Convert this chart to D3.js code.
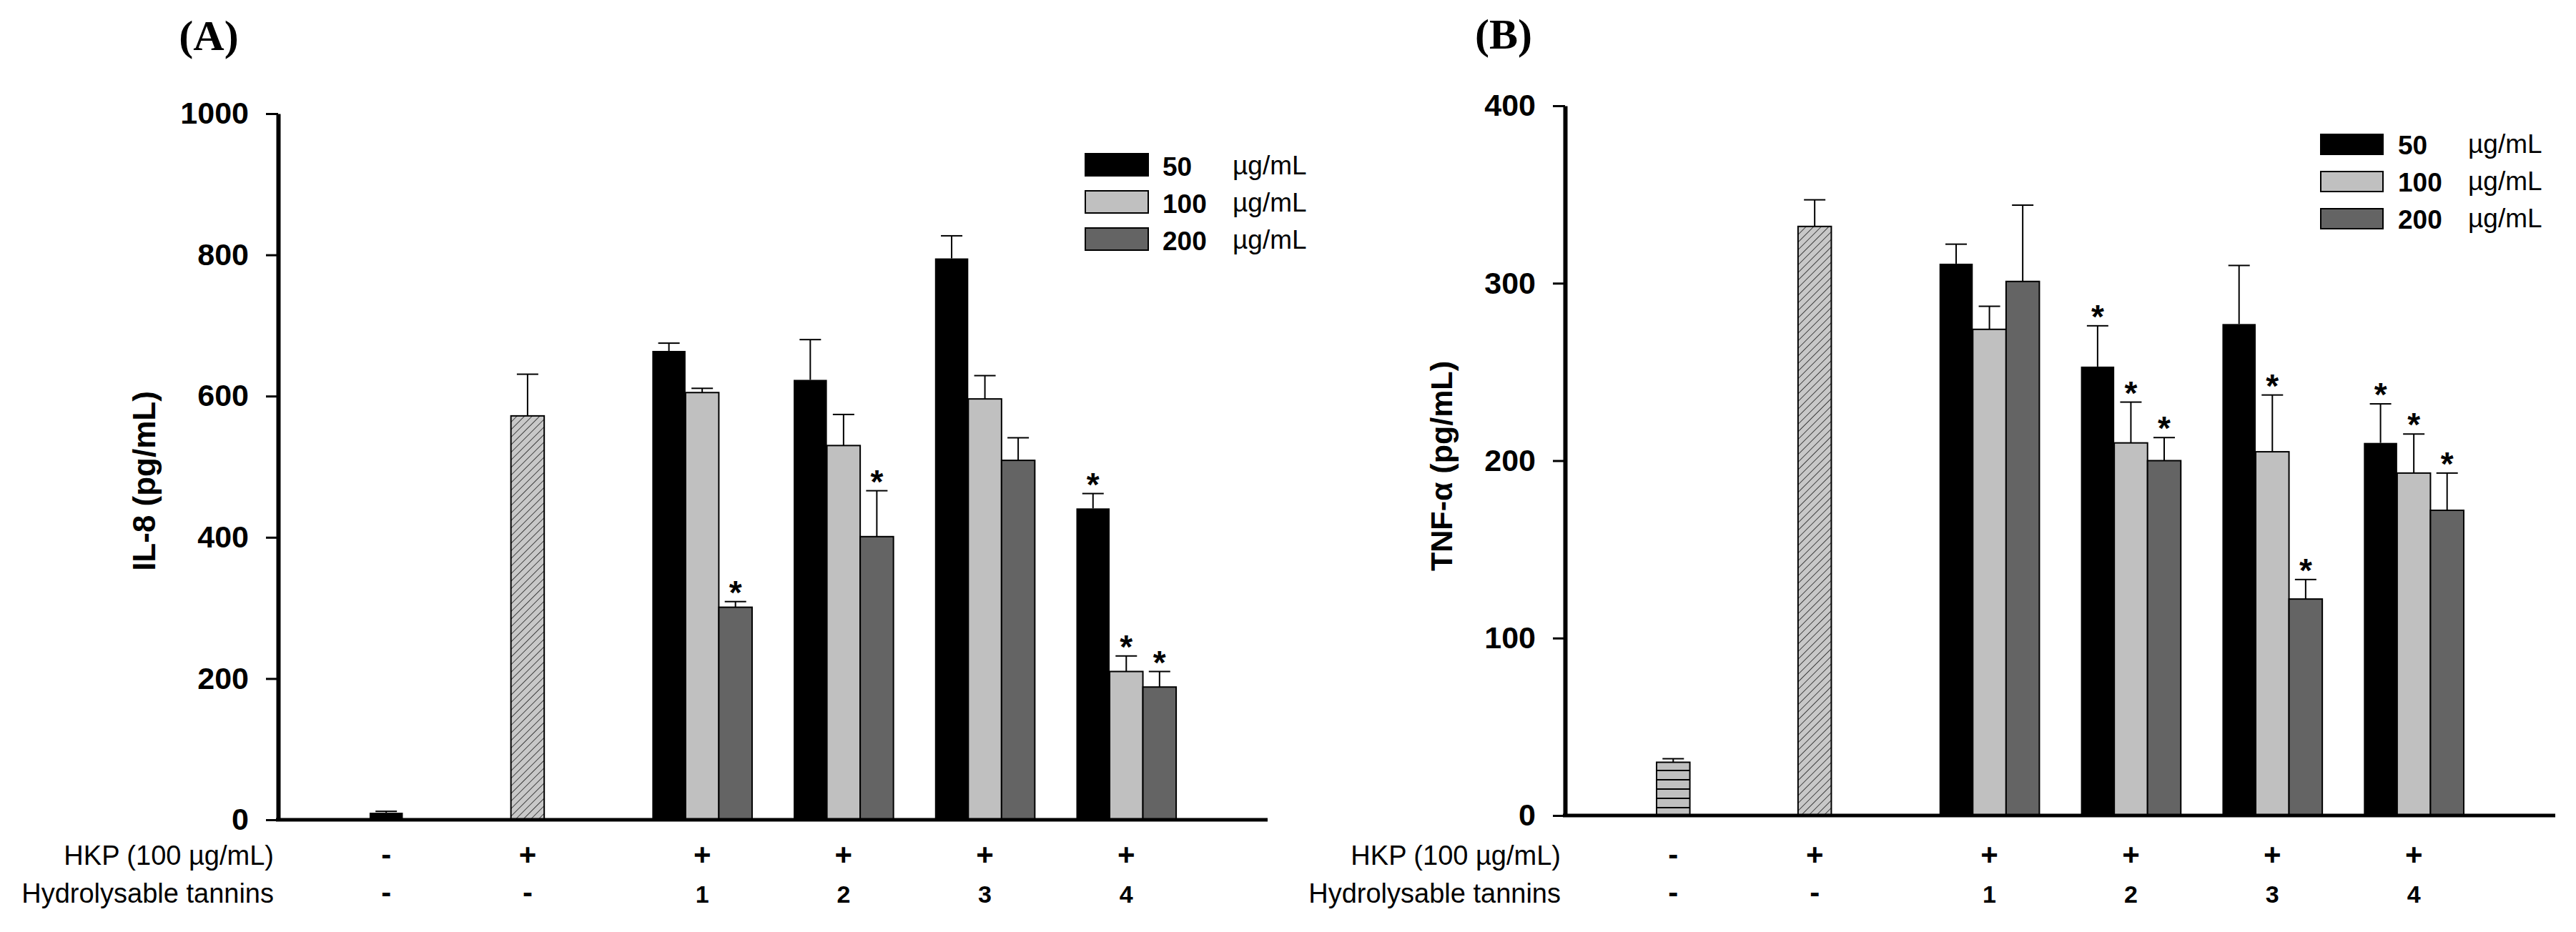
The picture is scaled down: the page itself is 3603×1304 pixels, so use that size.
<!DOCTYPE html>
<html><head><meta charset="utf-8">
<script src="https://cdn.jsdelivr.net/npm/d3@7"></script>
<style>
body{margin:0;background:#fff}
text{fill:#000}
</style>
</head><body>
<svg id="chart" width="3603" height="1304"></svg>
<script>
// ---------- data ----------
const categories = ["control", "HKP", "T1", "T2", "T3", "T4"];
const hkpRow = ["-", "+", "+", "+", "+", "+"];
const tanninRow = ["-", "-", "1", "2", "3", "4"];
const doses = ["50", "100", "200"];
const doseUnit = "µg/mL";
const rowLabels = ["HKP (100 µg/mL)", "Hydrolysable tannins"];

// Panel A : IL-8
const il8Ticks = [0, 200, 400, 600, 800, 1000];
const il8RefMean = [10, 572];      // control, HKP alone
const il8RefErr = [2, 59];
const il8Mean50 = [664, 623, 795, 441];
const il8Err50 = [11, 57, 32, 21];
const il8Star50 = [0, 0, 0, 1];
const il8Mean100 = [605, 530, 596, 210];
const il8Err100 = [6, 44, 33, 22];
const il8Star100 = [0, 0, 0, 1];
const il8Mean200 = [301, 401, 509, 188];
const il8Err200 = [8, 65, 32, 22];
const il8Star200 = [1, 1, 0, 1];

// Panel B : TNF-α
const tnfTicks = [0, 100, 200, 300, 400];
const tnfRefMean = [30, 332];
const tnfRefErr = [2, 15];
const tnfMean50 = [311, 253, 277, 210];
const tnfErr50 = [11, 23, 33, 22];
const tnfStar50 = [0, 1, 0, 1];
const tnfMean100 = [274, 210, 205, 193];
const tnfErr100 = [13, 23, 32, 22];
const tnfStar100 = [0, 1, 1, 1];
const tnfMean200 = [301, 200, 122, 172];
const tnfErr200 = [43, 13, 11, 21];
const tnfStar200 = [0, 1, 1, 1];

// ---------- styles ----------
const SANS = "'Liberation Sans', Arial, Helvetica, sans-serif";
const SERIF = "'Liberation Serif', 'Times New Roman', serif";
const doseFills = ["#000000", "#c0c0c0", "#646464"];

const svg = d3.select("#chart");
const defs = svg.append("defs");
// diagonal hatch
const hatch = defs.append("pattern").attr("id", "hatch").attr("patternUnits", "userSpaceOnUse")
  .attr("width", 7.5).attr("height", 7.5).attr("patternTransform", "rotate(45)");
hatch.append("rect").attr("width", 7.5).attr("height", 7.5).attr("fill", "#c8c8c8");
hatch.append("line").attr("x1", 0).attr("y1", 0).attr("x2", 0).attr("y2", 7.5)
  .attr("stroke", "#222").attr("stroke-width", 1.6);
// horizontal stripes
const hstripe = defs.append("pattern").attr("id", "hstripe").attr("patternUnits", "userSpaceOnUse")
  .attr("width", 10).attr("height", 13);
hstripe.append("rect").attr("width", 10).attr("height", 13).attr("fill", "#c0c0c0");
hstripe.append("line").attr("x1", 0).attr("y1", 12).attr("x2", 10).attr("y2", 12)
  .attr("stroke", "#000").attr("stroke-width", 2);

const panels = [
  {
    label: "(A)", labelX: 292, labelY: 70,
    title: "IL-8 (pg/mL)", titleX: 217, titleY: 673, titleSize: 44,
    axisX: 389, endX: 1773, y0: 1147, yTop: 159, max: 1000, ticks: il8Ticks,
    refMean: il8RefMean, refErr: il8RefErr, controlFill: "#000",
    means: [il8Mean50, il8Mean100, il8Mean200],
    errs: [il8Err50, il8Err100, il8Err200],
    stars: [il8Star50, il8Star100, il8Star200],
    legX: 1518, legY: 215, legW: 88, legH: 31
  },
  {
    label: "(B)", labelX: 2103, labelY: 68,
    title: "TNF-α (pg/mL)", titleX: 2031, titleY: 652, titleSize: 43,
    axisX: 2189, endX: 3574, y0: 1141, yTop: 148, max: 400, ticks: tnfTicks,
    refMean: tnfRefMean, refErr: tnfRefErr, controlFill: "url(#hstripe)",
    means: [tnfMean50, tnfMean100, tnfMean200],
    errs: [tnfErr50, tnfErr100, tnfErr200],
    stars: [tnfStar50, tnfStar100, tnfStar200],
    legX: 3246, legY: 188, legW: 87, legH: 28
  }
];

panels.forEach(p => {
  const g = svg.append("g");
  const y = d3.scaleLinear().domain([0, p.max]).range([p.y0, p.yTop]);
  const x0 = d3.scaleBand().domain(categories).range([p.axisX, p.endX])
    .paddingInner(0.294).paddingOuter(0.647);
  const x1 = d3.scaleBand().domain([0, 1, 2]).range([0, x0.bandwidth()]);

  // build bars
  const bars = [];
  p.refMean.forEach((m, i) => bars.push({
    cat: categories[i], slot: 0, mean: m, err: p.refErr[i], star: 0,
    fill: i === 0 ? p.controlFill : "url(#hatch)", stroke: i === 0 && p.controlFill === "#000" ? "none" : "#000"
  }));
  for (let d = 0; d < 3; d++) {
    p.means[d].forEach((m, i) => bars.push({
      cat: categories[i + 2], slot: d, mean: m, err: p.errs[d][i], star: p.stars[d][i],
      fill: doseFills[d], stroke: d === 0 ? "none" : "#000"
    }));
  }

  // error bars (drawn first, bars cover lower part)
  bars.forEach(b => {
    const cx = x0(b.cat) + x1(b.slot) + x1.bandwidth() / 2;
    g.append("line").attr("x1", cx).attr("x2", cx).attr("y1", y(b.mean)).attr("y2", y(b.mean + b.err))
      .attr("stroke", "#000").attr("stroke-width", 2);
    g.append("line").attr("x1", cx - 15).attr("x2", cx + 15).attr("y1", y(b.mean + b.err)).attr("y2", y(b.mean + b.err))
      .attr("stroke", "#000").attr("stroke-width", 2);
    if (b.star) {
      g.append("text").attr("x", cx).attr("y", y(b.mean + b.err) + 3)
        .attr("text-anchor", "middle").style("font-family", SANS)
        .attr("font-weight", "bold").attr("font-size", 46).text("*");
    }
  });

  g.selectAll("rect.bar").data(bars).join("rect").attr("class", "bar")
    .attr("x", b => x0(b.cat) + x1(b.slot))
    .attr("y", b => y(b.mean))
    .attr("width", x1.bandwidth())
    .attr("height", b => p.y0 - y(b.mean))
    .attr("fill", b => b.fill)
    .attr("stroke", b => b.stroke)
    .attr("stroke-width", 2);

  // y axis
  const ax = g.append("g").attr("transform", `translate(${p.axisX},0)`)
    .call(d3.axisLeft(y).tickValues(p.ticks).tickSize(17).tickSizeOuter(0).tickPadding(24).tickFormat(d3.format("d")));
  ax.select(".domain").attr("stroke-width", 6);
  ax.selectAll(".tick line").attr("stroke-width", 3);
  ax.selectAll(".tick text").style("font-family", SANS).attr("font-size", 43)
    .attr("font-weight", "bold").attr("fill", "#000");

  // x axis line
  g.append("line").attr("x1", p.axisX - 3).attr("x2", p.endX).attr("y1", p.y0).attr("y2", p.y0)
    .attr("stroke", "#000").attr("stroke-width", 5);

  // row labels
  [1210, 1263].forEach((by, r) => {
    g.append("text").attr("x", p.axisX - 6).attr("y", by).attr("text-anchor", "end")
      .style("font-family", SANS).attr("font-size", 38).text(rowLabels[r]);
  });
  // signs under each category
  categories.forEach((c, i) => {
    const cx = i < 2 ? x0(c) + x1(0) + x1.bandwidth() / 2 : x0(c) + x0.bandwidth() / 2;
    g.append("text").attr("x", cx).attr("y", 1210).attr("text-anchor", "middle")
      .style("font-family", SANS).attr("font-size", 42).attr("font-weight", "bold").text(hkpRow[i]);
    g.append("text").attr("x", cx).attr("y", 1263).attr("text-anchor", "middle")
      .style("font-family", SANS).attr("font-size", i < 2 ? 42 : 34).attr("font-weight", "bold").text(tanninRow[i]);
  });

  // y title
  g.append("text").attr("transform", `translate(${p.titleX},${p.titleY}) rotate(-90)`)
    .attr("text-anchor", "middle").style("font-family", SANS)
    .attr("font-size", p.titleSize).attr("font-weight", "bold").text(p.title);

  // panel label
  g.append("text").attr("x", p.labelX).attr("y", p.labelY).attr("text-anchor", "middle")
    .style("font-family", SERIF).attr("font-weight", "bold")
    .attr("font-size", 60).text(p.label);

  // legend
  doses.forEach((d, i) => {
    const ly = p.legY + i * 52;
    g.append("rect").attr("x", p.legX).attr("y", ly).attr("width", p.legW).attr("height", p.legH)
      .attr("fill", doseFills[i]).attr("stroke", "#000").attr("stroke-width", 2);
    g.append("text").attr("x", p.legX + 108).attr("y", ly + p.legH).style("font-family", SANS)
      .attr("font-size", 37).attr("font-weight", "bold").text(d);
    g.append("text").attr("x", p.legX + 206).attr("y", ly + p.legH - 2).style("font-family", SANS)
      .attr("font-size", 37).text(doseUnit);
  });
});
</script>
</body></html>
